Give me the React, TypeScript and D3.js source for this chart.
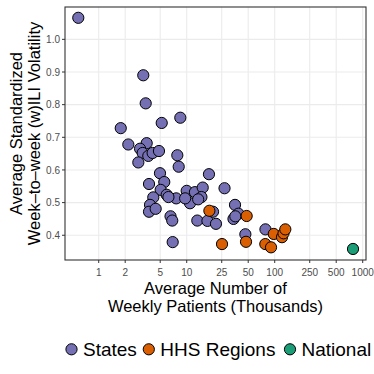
import React from "react";
import * as d3 from "d3";

const stateX = [0.586, 3.21, 3.42, 1.78, 5.2, 8.46, 2.17, 3.51, 2.95, 3.16, 3.66, 4.1, 4.84, 2.82, 7.82, 8.11, 4.97, 3.73, 5.56, 5.06, 4.17, 5.92, 3.83, 3.73, 4.44, 7.6, 6.55, 6.85, 6.93, 10.0, 10.9, 12.4, 15.2, 14.7, 9.6, 13.2, 17.2, 21.5, 17.9, 26.9, 19.9, 35.4, 38.7, 34.0, 35.7, 46.4, 78.5, 13.5, 6.2];
const stateY = [1.066, 0.89, 0.804, 0.728, 0.744, 0.76, 0.678, 0.682, 0.665, 0.652, 0.643, 0.652, 0.658, 0.623, 0.645, 0.61, 0.59, 0.557, 0.563, 0.539, 0.516, 0.524, 0.493, 0.472, 0.481, 0.513, 0.458, 0.445, 0.379, 0.536, 0.498, 0.532, 0.546, 0.517, 0.513, 0.445, 0.444, 0.435, 0.587, 0.544, 0.472, 0.493, 0.466, 0.45, 0.458, 0.403, 0.418, 0.51, 0.517];
const hhsX = [18.1, 48.0, 25.2, 47.2, 78.2, 90.8, 97.5, 121, 126, 132];
const hhsY = [0.475, 0.459, 0.373, 0.38, 0.373, 0.363, 0.404, 0.394, 0.406, 0.418];
const nationalX = [776];
const nationalY = [0.358];

const xTicks = [1, 2, 5, 10, 25, 50, 100, 250, 500, 1000];
const yTicks = [0.4, 0.5, 0.6, 0.7, 0.8, 0.9, 1.0];

const groups = ["States", "HHS Regions", "National"];
const colors = ["#7570B3", "#D95F02", "#1B9E77"];

const W = 374, H = 374;
const L = 65, R = 366, T = 7, B = 260;
const FONT = "'Liberation Sans', Arial, Helvetica, sans-serif";

export default function App() {
  const x = d3.scaleLog().domain([0.414, 1090]).range([L, R]);
  const y = d3.scaleLinear().domain([0.3242, 1.0991]).range([B, T]);
  const series = [
    { xs: stateX, ys: stateY, c: colors[0] },
    { xs: hhsX, ys: hhsY, c: colors[1] },
    { xs: nationalX, ys: nationalY, c: colors[2] },
  ];
  const legendCx = [71.5, 148.8, 290];
  const cy = (L + R) / 2;
  const midY = (T + B) / 2;
  return (
    <svg width={W} height={H} style={{ position: "absolute", left: 0, top: 0, fontFamily: FONT }}>
      <rect x={0} y={0} width={W} height={H} fill="#fff" />
      {xTicks.map((t) => (
        <line key={"gx" + t} x1={x(t)} x2={x(t)} y1={T} y2={B} stroke="#ebebeb" strokeWidth={1.1} />
      ))}
      {yTicks.map((t) => (
        <line key={"gy" + t} x1={L} x2={R} y1={y(t)} y2={y(t)} stroke="#ebebeb" strokeWidth={1.1} />
      ))}
      {series.map((s, si) =>
        s.xs.map((v, i) => (
          <circle key={si + "-" + i} cx={x(v)} cy={y(s.ys[i])} r={5.6} fill={s.c} stroke="#000" strokeWidth={1} />
        ))
      )}
      <rect x={L} y={T} width={R - L} height={B - T} fill="none" stroke="#333" strokeWidth={1.1} />
      {xTicks.map((t) => (
        <g key={"xt" + t}>
          <line x1={x(t)} x2={x(t)} y1={B} y2={B + 3} stroke="#333" strokeWidth={1} />
          <text x={x(t)} y={276} textAnchor="middle" fontSize={10} fill="#4d4d4d">{t}</text>
        </g>
      ))}
      {yTicks.map((t) => (
        <g key={"yt" + t}>
          <line x1={L - 3} x2={L} y1={y(t)} y2={y(t)} stroke="#333" strokeWidth={1} />
          <text x={60} y={y(t) + 3.6} textAnchor="end" fontSize={10} fill="#4d4d4d">{t.toFixed(1)}</text>
        </g>
      ))}
      <text x={cy} y={294.3} textAnchor="middle" fontSize={16.5} fill="#000">Average Number of</text>
      <text x={cy} y={311.5} textAnchor="middle" fontSize={16.5} fill="#000">Weekly Patients (Thousands)</text>
      <g transform="rotate(-90)">
        <text x={-midY} y={22} textAnchor="middle" fontSize={16.5} fill="#000">Average Standardized</text>
        <text x={-midY} y={40} textAnchor="middle" fontSize={16.5} fill="#000">Week–to–week (w)ILI Volatility</text>
      </g>
      {groups.map((g, i) => (
        <g key={g}>
          <circle cx={legendCx[i]} cy={349.3} r={5.6} fill={colors[i]} stroke="#000" strokeWidth={1} />
          <text x={legendCx[i] + 11.5} y={355.5} fontSize={19} fill="#000">{g}</text>
        </g>
      ))}
    </svg>
  );
}
